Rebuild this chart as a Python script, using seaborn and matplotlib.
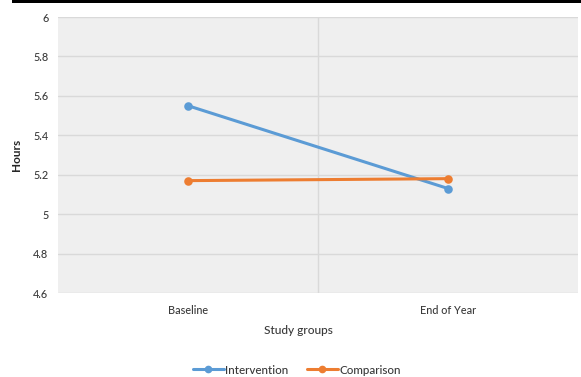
import matplotlib
matplotlib.use("Agg")
import matplotlib.pyplot as plt
from matplotlib.lines import Line2D
import seaborn as sns
import pandas as pd

# Mean hours per study group at each time point
time_points = ["Baseline", "End of Year"]
intervention = [5.55, 5.13]
comparison = [5.17, 5.18]
series_names = ["Intervention", "Comparison"]
y_ticks = [4.6, 4.8, 5.0, 5.2, 5.4, 5.6, 5.8, 6.0]
y_tick_labels = ["4.6", "4.8", "5", "5.2", "5.4", "5.6", "5.8", "6"]

df = pd.DataFrame({
    "Time": time_points * 2,
    "Hours": intervention + comparison,
    "Group": [series_names[0]] * 2 + [series_names[1]] * 2,
})

sns.set_theme(style="white")
plt.rcParams["font.family"] = ["Lato", "DejaVu Sans"]

fig = plt.figure(figsize=(5.81, 3.77), dpi=100)
ax = fig.add_axes([58 / 581, 1 - 293 / 377, 520 / 581, (293 - 17) / 377])
ax.set_facecolor("#efefef")

palette = {"Intervention": "#5b9bd5", "Comparison": "#ed7d31"}
sns.pointplot(
    data=df, x="Time", y="Hours", hue="Group", palette=palette,
    markers="o", linestyles="-", dodge=False, ax=ax,
    markersize=4.5, linewidth=2.2, errorbar=None, legend=False,
)

ax.set_xlim(-0.5, 1.5)
ax.set_ylim(4.6, 6.0)
ax.set_yticks(y_ticks)
ax.set_yticklabels(y_tick_labels)

# Horizontal gridlines plus the single divider between the two categories
for y in y_ticks:
    ax.axhline(y, color="#d9d9d9", lw=1.0, zorder=0)
ax.axvline(0.5, color="#d9d9d9", lw=1.0, zorder=0)

for s in ax.spines.values():
    s.set_visible(False)

ax.tick_params(axis="both", length=0, labelsize=7.8, colors="#3a3a3a")
ax.tick_params(axis="y", pad=7)
ax.tick_params(axis="x", pad=9)
for lab in ax.get_xticklabels() + ax.get_yticklabels():
    lab.set_fontweight("medium")
ax.set_xlabel("Study groups", fontsize=8.6, color="#3a3a3a", fontweight="medium")
ax.xaxis.set_label_coords((298 - 58) / 520, -0.115)
ax.set_ylabel("Hours", fontsize=8.5, color="#262626", fontweight="bold")
ax.yaxis.set_label_coords(-0.07, 0.5)

# Legend below the plot area
handles = [
    Line2D([], [], color=palette[n], marker="o", markersize=4.5, lw=2.2)
    for n in series_names
]
fig.legend(
    handles, series_names, loc="center", bbox_to_anchor=(297 / 581, 1 - 370 / 377),
    ncol=2, frameon=False, fontsize=8.4, handlelength=2.6, handletextpad=0.15,
    columnspacing=1.6, labelcolor="#3a3a3a",
    prop={"weight": "medium", "size": 8.4},
)

# Dark band across the top edge
fig.add_artist(plt.Rectangle((12 / 581, 1 - 3 / 377), 1, 3 / 377,
                             transform=fig.transFigure, color="black", lw=0))

fig.savefig("out.png", dpi=100, facecolor="white")
